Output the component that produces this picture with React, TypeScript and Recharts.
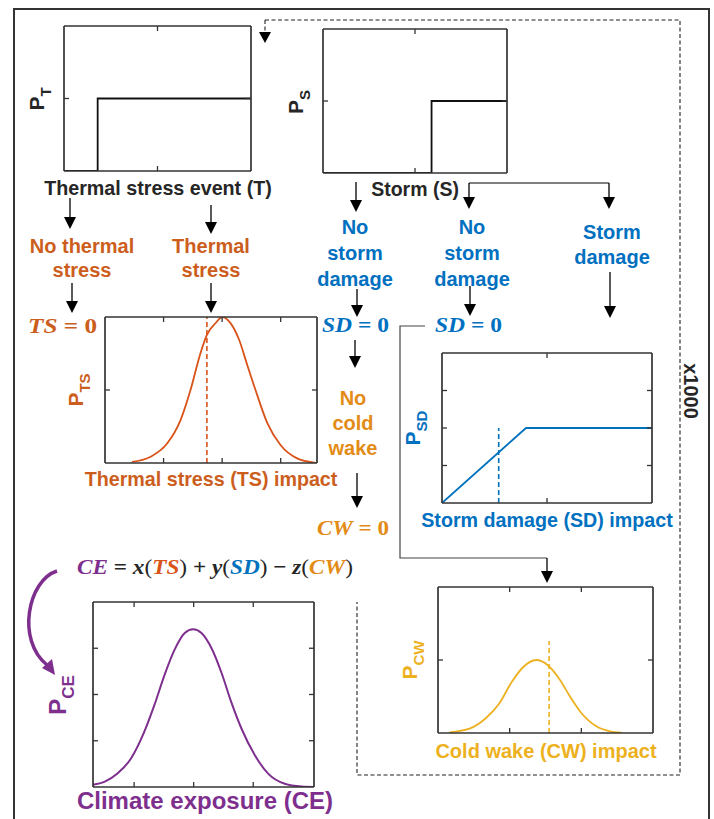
import React from 'react';
import { LineChart, Line, XAxis, YAxis, ReferenceLine } from 'recharts';

const FONT = '"Liberation Sans", Arial, Helvetica, sans-serif';
const MATH = '"Liberation Serif", "Times New Roman", serif';

const C_TS = '#D95319';
const T_TS = '#CC5E1D';
const C_SD = '#0072BD';
const T_SD = '#0070C0';
const C_CW = '#EDB120';
const T_NCW = '#E38B17';
const C_CE = '#7E2F8E';
const INK = '#262626';

// Thermal stress event (T) step
const ptX = [0, 0.18, 0.18, 1];
const ptY = [0, 0, 0.5, 0.5];
// Storm (S) step
const psX = [0, 0.59, 0.59, 1];
const psY = [0, 0, 0.5, 0.5];
// Thermal stress (TS) impact
const tsX = [0.46, 0.77, 1.06, 1.29, 1.46, 1.63, 1.74, 1.89, 2.0, 2.14, 2.29, 2.43, 2.57, 2.77, 3.0, 3.29, 3.57, 3.62];
const tsY = [0.007, 0.041, 0.133, 0.294, 0.5, 0.752, 0.878, 0.959, 1.0, 0.96, 0.844, 0.67, 0.5, 0.275, 0.122, 0.03, 0.003, 0.001];
const tsDash = 1.74;
// Storm damage (SD) impact
const sdX = [0, 0.4, 1];
const sdY = [0, 2, 2];
const sdDash = 0.27;
const sdDashTop = 2;
// Cold wake (CW) impact
const cwX = [0.16, 0.44, 0.67, 0.86, 1.02, 1.19, 1.37, 1.54, 1.7, 1.84, 2.0, 2.21, 2.4, 2.56];
const cwY = [0.009, 0.059, 0.205, 0.411, 0.685, 0.904, 1.0, 0.922, 0.731, 0.502, 0.274, 0.091, 0.023, 0.005];
const cwDash = 1.55;
const cwDashTop = 1.26;
// Climate exposure (CE)
const ceX = [0.31, 0.5, 0.72, 0.95, 1.17, 1.34, 1.51, 1.68, 1.85, 1.99, 2.13, 2.3, 2.47, 2.63, 2.8, 3.03, 3.25, 3.53, 3.81, 4.02];
const ceY = [0.05, 0.11, 0.29, 0.62, 1.19, 1.77, 2.42, 2.97, 3.33, 3.41, 3.33, 3.0, 2.46, 1.84, 1.27, 0.68, 0.29, 0.07, 0.01, 0];

const toPts = (xs: number[], ys: number[]) => xs.map((x, i) => ({ x, y: ys[i] }));

type MiniProps = {
  left: number; top: number; w: number; h: number;
  xDomain: [number, number]; yDomain: [number, number];
  xTicks: number[]; yTicks: number[];
  xs: number[]; ys: number[]; color: string; curve: 'linear' | 'monotone';
  dashX?: number; dashTop?: number; dashColor?: string; lineW?: number;
};

const NoLabel = () => <g />;

function MiniChart(p: MiniProps) {
  const m = 6;
  const a = 1; // axis thickness reserved
  const data = toPts(p.xs, p.ys);
  const axisLine = { stroke: '#333', strokeWidth: 1.7 };
  const tickLine = { stroke: '#333', strokeWidth: 1.3 };
  const common = { tick: NoLabel, tickSize: -5, tickMargin: 0, axisLine, tickLine, allowDataOverflow: true, interval: 0 as const };
  return (
    <div style={{ position: 'absolute', left: p.left - m, top: p.top - m }}>
      <LineChart width={p.w + 2 * m} height={p.h + 2 * m} margin={{ top: m - a, right: m - a, bottom: m - a, left: m - a }} data={data}>
        <XAxis xAxisId="b" orientation="bottom" type="number" dataKey="x" domain={p.xDomain} ticks={p.xTicks} height={a} {...common} />
        <XAxis xAxisId="t" orientation="top" type="number" dataKey="x" domain={p.xDomain} ticks={p.xTicks} height={a} {...common} />
        <YAxis yAxisId="l" orientation="left" type="number" domain={p.yDomain} ticks={p.yTicks} width={a} {...common} />
        <YAxis yAxisId="r" orientation="right" type="number" domain={p.yDomain} ticks={p.yTicks} width={a} {...common} />
        {p.dashX !== undefined && (
          <ReferenceLine
            xAxisId="b"
            yAxisId="l"
            segment={[{ x: p.dashX, y: p.yDomain[0] }, { x: p.dashX, y: p.dashTop }]}
            stroke={p.dashColor}
            strokeWidth={1.6}
            strokeDasharray="5 3"
          />
        )}
        <Line xAxisId="b" yAxisId="l" dataKey="y" type={p.curve} stroke={p.color} strokeWidth={p.lineW ?? 1.8} dot={false} isAnimationActive={false} />
      </LineChart>
    </div>
  );
}

const Arrow = ({ x, y1, y2, color = '#000' }: { x: number; y1: number; y2: number; color?: string }) => (
  <g>
    <line x1={x} y1={y1} x2={x} y2={y2 - 10} stroke={color} strokeWidth={1.3} />
    <polygon points={`${x - 6},${y2 - 12} ${x + 6},${y2 - 12} ${x},${y2}`} fill={color} />
  </g>
);

const PLabel = ({ x, y, sub, color, size = 21, subSize = 15 }: { x: number; y: number; sub: string; color: string; size?: number; subSize?: number }) => (
  <text transform={`translate(${x},${y}) rotate(-90)`} textAnchor="middle" fill={color} fontFamily={FONT} fontWeight="bold" fontSize={size}>
    P<tspan fontSize={subSize} dy={size * 0.32}>{sub}</tspan>
  </text>
);

const Lines = ({ cx, ys, words, color, size = 20 }: { cx: number; ys: number[]; words: string[]; color: string; size?: number }) => (
  <g>
    {words.map((w, i) => (
      <text key={i} x={cx} y={ys[i]} textAnchor="middle" fill={color} fontFamily={FONT} fontWeight="bold" fontSize={size}>
        {w}
      </text>
    ))}
  </g>
);

const arrows: [number, number, number][] = [
  [70, 198, 229],
  [211, 205, 234],
  [72, 283, 313],
  [211, 283, 313],
  [356, 182, 212],
  [469, 183, 209],
  [609, 183, 209],
  [357, 289, 317],
  [470, 286, 316],
  [610, 272, 318],
  [355, 340, 368],
  [357, 473, 508],
  [547, 558, 583],
];

export default function App() {
  return (
    <div style={{ position: 'absolute', left: 0, top: 0, width: 714, height: 819, overflow: 'hidden', background: '#fff' }}>
      <svg width={714} height={819} style={{ position: 'absolute', left: 0, top: 0 }}>
        {/* outer border */}
        <rect x={14} y={9} width={695} height={830} fill="none" stroke="#333" strokeWidth={2} />
        {/* dashed feedback frame */}
        <path d="M265 20 H680 V775 H357 V602" fill="none" stroke="#222" strokeWidth={1.1} strokeDasharray="4 2.5" />
        <line x1={265} y1={20} x2={265} y2={33} stroke="#222" strokeWidth={1.1} strokeDasharray="4 2.5" />
        <polygon points="259,32 271,32 265,43" fill="#000" />
        <text transform="translate(684,391) rotate(90)" textAnchor="middle" fill={INK} fontFamily={FONT} fontWeight="bold" fontSize={20}>
          x1000
        </text>

        {/* storm branch lines */}
        <line x1={469} y1={183} x2={609} y2={183} stroke="#000" strokeWidth={1.2} />
        <path d="M425 326 H400 V558 H547" fill="none" stroke="#444" strokeWidth={1.2} />
        {arrows.map(([x, a, b], i) => (
          <Arrow key={i} x={x} y1={a} y2={b} />
        ))}

        {/* axis titles of top charts */}
        <text x={158} y={195} textAnchor="middle" fill={INK} fontFamily={FONT} fontWeight="bold" fontSize={19.7}>
          Thermal stress event (T)
        </text>
        <text x={415} y={196} textAnchor="middle" fill={INK} fontFamily={FONT} fontWeight="bold" fontSize={19.5}>
          Storm (S)
        </text>
        <PLabel x={44} y={99} sub="T" color={INK} />
        <PLabel x={303} y={102} sub="S" color={INK} />

        {/* branch labels */}
        <Lines cx={82} ys={[253, 277]} words={['No thermal', 'stress']} color={T_TS} />
        <Lines cx={211} ys={[253, 277]} words={['Thermal', 'stress']} color={T_TS} />
        <Lines cx={355} ys={[234, 260, 286]} words={['No', 'storm', 'damage']} color={T_SD} />
        <Lines cx={472} ys={[234, 260, 286]} words={['No', 'storm', 'damage']} color={T_SD} />
        <Lines cx={612} ys={[239, 264]} words={['Storm', 'damage']} color={T_SD} />
        <Lines cx={353} ys={[405, 430, 455]} words={['No', 'cold', 'wake']} color={T_NCW} />

        {/* zero equations */}
        <text x={28} y={333} fill={T_TS} fontFamily={MATH} fontWeight="bold" fontSize={22} textLength={69} lengthAdjust="spacingAndGlyphs">
          <tspan fontStyle="italic">TS</tspan> = 0
        </text>
        <text x={322} y={332} fill={T_SD} fontFamily={MATH} fontWeight="bold" fontSize={22} textLength={67} lengthAdjust="spacingAndGlyphs">
          <tspan fontStyle="italic">SD</tspan> = 0
        </text>
        <text x={435} y={332} fill={T_SD} fontFamily={MATH} fontWeight="bold" fontSize={22} textLength={67} lengthAdjust="spacingAndGlyphs">
          <tspan fontStyle="italic">SD</tspan> = 0
        </text>
        <text x={317} y={535} fill={T_NCW} fontFamily={MATH} fontWeight="bold" fontSize={22} textLength={72} lengthAdjust="spacingAndGlyphs">
          <tspan fontStyle="italic">CW</tspan> = 0
        </text>

        {/* impact chart labels */}
        <text x={211} y={486} textAnchor="middle" fill={T_TS} fontFamily={FONT} fontWeight="bold" fontSize={19.7}>
          Thermal stress (TS) impact
        </text>
        <PLabel x={83} y={390} sub="TS" color={T_TS} />
        <text x={547} y={527} textAnchor="middle" fill={T_SD} fontFamily={FONT} fontWeight="bold" fontSize={19.7}>
          Storm damage (SD) impact
        </text>
        <PLabel x={420} y={428} sub="SD" color={T_SD} />
        <text x={546} y={758} textAnchor="middle" fill={C_CW} fontFamily={FONT} fontWeight="bold" fontSize={20}>
          Cold wake (CW) impact
        </text>
        <PLabel x={417} y={660} sub="CW" color={C_CW} />

        {/* climate exposure */}
        <text x={77} y={574} fill={INK} fontFamily={MATH} fontWeight="bold" fontSize={22} textLength={276} lengthAdjust="spacingAndGlyphs">
          <tspan fill={C_CE} fontStyle="italic">CE</tspan>
          <tspan> = </tspan>
          <tspan fontStyle="italic">x</tspan>
          <tspan fontWeight="normal">(</tspan>
          <tspan fill={C_TS} fontStyle="italic">TS</tspan>
          <tspan fontWeight="normal">)</tspan>
          <tspan> + </tspan>
          <tspan fontStyle="italic">y</tspan>
          <tspan fontWeight="normal">(</tspan>
          <tspan fill={C_SD} fontStyle="italic">SD</tspan>
          <tspan fontWeight="normal">)</tspan>
          <tspan> − </tspan>
          <tspan fontStyle="italic">z</tspan>
          <tspan fontWeight="normal">(</tspan>
          <tspan fill={T_NCW} fontStyle="italic">CW</tspan>
          <tspan fontWeight="normal">)</tspan>
        </text>
        <path d="M57 571 C28 580, 16 640, 47 665" fill="none" stroke={C_CE} strokeWidth={3.5} />
        <polygon points="55,675 42,668 52,659" fill={C_CE} />
        <PLabel x={66} y={695} sub="CE" color={C_CE} size={24} subSize={17} />
        <text x={205} y={809} textAnchor="middle" fill={C_CE} fontFamily={FONT} fontWeight="bold" fontSize={24}>
          Climate exposure (CE)
        </text>
      </svg>

      <MiniChart left={64} top={26} w={187} h={145} xDomain={[0, 1]} yDomain={[0, 1]} xTicks={[0.5]} yTicks={[0.5]}
        xs={ptX} ys={ptY} color="#111" curve="linear" lineW={1.8} />
      <MiniChart left={323} top={29} w={184} h={144} xDomain={[0, 1]} yDomain={[0, 1]} xTicks={[0.5]} yTicks={[0.5]}
        xs={psX} ys={psY} color="#111" curve="linear" lineW={1.8} />
      <MiniChart left={105} top={317} w={212} h={146} xDomain={[0, 3.62]} yDomain={[0, 1]} xTicks={[1, 2, 3]} yTicks={[0.5]}
        xs={tsX} ys={tsY} color={C_TS} curve="monotone" dashX={tsDash} dashTop={1} dashColor={C_TS} />
      <MiniChart left={442} top={353} w={210} h={150} xDomain={[0, 1]} yDomain={[0, 4]} xTicks={[0.5]} yTicks={[1, 2, 3]}
        xs={sdX} ys={sdY} color={C_SD} curve="linear" dashX={sdDash} dashTop={sdDashTop} dashColor={C_SD} />
      <MiniChart left={438} top={587} w={215} h={146} xDomain={[0, 3]} yDomain={[0, 2]} xTicks={[1, 2]} yTicks={[1]}
        xs={cwX} ys={cwY} color={C_CW} curve="monotone" dashX={cwDash} dashTop={cwDashTop} dashColor={C_CW} />
      <MiniChart left={93} top={602} w={221} h={185} xDomain={[0.31, 4.02]} yDomain={[0, 4]} xTicks={[1, 2, 3]} yTicks={[1, 2, 3]}
        xs={ceX} ys={ceY} color={C_CE} curve="monotone" lineW={2} />
    </div>
  );
}
